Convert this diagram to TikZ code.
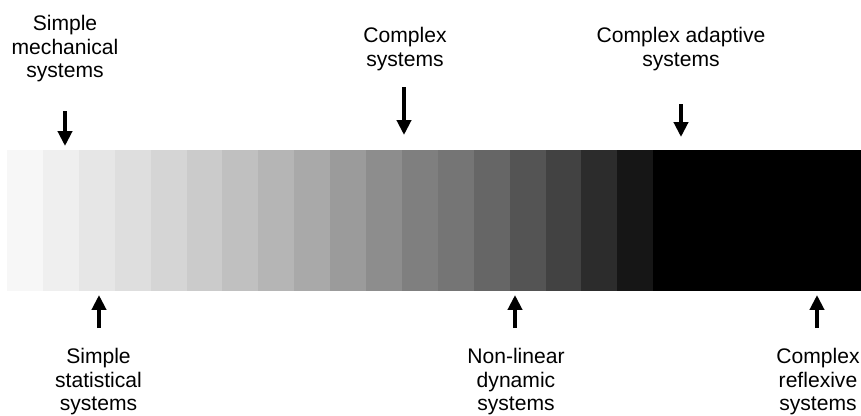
\documentclass[tikz,border=0pt]{standalone}
\usepackage{fontspec}
\setmainfont{Liberation Sans}
\usepackage{tikz}
\usetikzlibrary{arrows.meta}

\begin{document}
\begin{tikzpicture}[
    sysname/.style={align=center, inner sep=0pt, anchor=north, font=\fontsize{12}{13.4}\selectfont},
    pointer/.style={line width=2.3pt, -{Triangle[width=8pt, length=8.5pt]}}
  ]
    
    \def\stripew{0.718}
    \def\barlow{2.48}
    \def\barhigh{5.30}
    \useasboundingbox (0,0) rectangle (17.22,8.30);

    
    \foreach \i/\g in {0/247, 1/239, 2/230, 3/222, 4/213, 5/203, 6/192, 7/181, 8/169,
                       9/155, 10/141, 11/127, 12/117, 13/102, 14/84, 15/66, 16/44, 17/22} {
        \definecolor{stripe}{RGB}{\g,\g,\g}
        \fill[stripe] (0.14+\i*\stripew, \barlow) rectangle (0.15+\i*\stripew+\stripew, \barhigh);
    }
    \fill[black] (0.14+18*\stripew, \barlow) rectangle (17.22, \barhigh);

    
    \node[sysname] (mech)   at (1.30, 8.00)  {Simple\\mechanical\\systems};
    \node[sysname] (cplx)   at (8.10, 7.76)  {Complex\\systems};
    \node[sysname] (adapt)  at (13.62, 7.76) {Complex adaptive\\systems};
    \node[sysname] (stat)   at (1.97, 1.34)  {Simple\\statistical\\systems};
    \node[sysname] (nonlin) at (10.32, 1.34) {Non-linear\\dynamic\\systems};
    \node[sysname] (reflex) at (16.36, 1.34) {Complex\\reflexive\\systems};

    
    \foreach \n/\x/\ya/\yb in {mech/1.30/6.08/5.38, cplx/8.08/6.56/5.60, adapt/13.62/6.22/5.56,
                               stat/1.98/1.74/2.40, nonlin/10.30/1.74/2.40, reflex/16.34/1.74/2.40} {
        \coordinate (\n-tail) at (\x, \ya);
        \coordinate (\n-tip) at (\x, \yb);
        \draw[pointer] (\n-tail) -- (\n-tip);
    }

\end{tikzpicture}
\end{document}
